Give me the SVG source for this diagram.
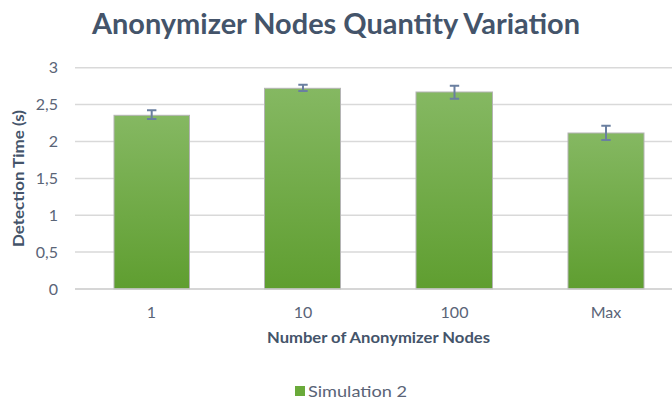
<svg xmlns="http://www.w3.org/2000/svg" width="672" height="403" viewBox="0 0 672 403">
  <defs>
    <linearGradient id="barFill" x1="0" y1="0" x2="0" y2="1">
      <stop offset="0" stop-color="#85b862"/>
      <stop offset="1" stop-color="#5f9e30"/>
    </linearGradient>
    <style>
      .grid { stroke: #d9d9d9; stroke-width: 1.5; }
      .axis { stroke: #c8c8c8; stroke-width: 1.5; }
      .bar { fill: url(#barFill); stroke: #b4b4b4; stroke-width: 1; }
      .err { stroke: #6a7fa0; stroke-width: 2; fill: none; }
      .title { font-family: Lato, "Open Sans", "Liberation Sans", sans-serif; font-weight: bold; fill: #44546a; }
      .tick { font-family: Lato, "Open Sans", "Liberation Sans", sans-serif; font-size: 16px; fill: #5a6477; }
      .legend { font-family: Lato, "Open Sans", "Liberation Sans", sans-serif; font-size: 16px; fill: #5a6477; }
    </style>
  </defs>
  <rect width="672" height="403" fill="#ffffff"/>

  <!-- chart title -->
  <text class="title" x="336" y="34" font-size="29" text-anchor="middle" textLength="488" lengthAdjust="spacingAndGlyphs">Anonymizer Nodes Quantity Variation</text>

  <!-- horizontal gridlines, one per 0.5 s -->
  <g id="gridlines">
    <line class="grid" x1="75" y1="67.7" x2="682" y2="67.7"/>
    <line class="grid" x1="75" y1="104.6" x2="682" y2="104.6"/>
    <line class="grid" x1="75" y1="141.5" x2="682" y2="141.5"/>
    <line class="grid" x1="75" y1="178.4" x2="682" y2="178.4"/>
    <line class="grid" x1="75" y1="215.2" x2="682" y2="215.2"/>
    <line class="grid" x1="75" y1="252.1" x2="682" y2="252.1"/>
  </g>

  <!-- y-axis tick labels -->
  <g id="y-ticks" class="tick" text-anchor="end">
    <text x="58" y="73">3</text>
    <text x="58" y="110">2,5</text>
    <text x="58" y="147">2</text>
    <text x="58" y="184">1,5</text>
    <text x="58" y="220.5">1</text>
    <text x="58" y="257.5">0,5</text>
    <text x="58" y="294.5">0</text>
  </g>

  <!-- bars -->
  <g id="bar-1"><rect class="bar" x="114" y="115.3" width="75.5" height="173.7"/></g>
  <g id="bar-10"><rect class="bar" x="264.5" y="88.3" width="76" height="200.7"/></g>
  <g id="bar-100"><rect class="bar" x="416" y="92" width="76.5" height="197"/></g>
  <g id="bar-max"><rect class="bar" x="568" y="133" width="76" height="156"/></g>

  <!-- baseline -->
  <line class="axis" x1="75" y1="289" x2="682" y2="289"/>

  <!-- error bars -->
  <g id="error-bars" class="err">
    <path d="M151.7 110.3V119M147 110.3H156.4M147 119H156.4"/>
    <path d="M303 84.7V91M298.3 84.7H307.7M298.3 91H307.7"/>
    <path d="M454.5 85.7V98.7M449.8 85.7H459.2M449.8 98.7H459.2"/>
    <path d="M606 125.7V140M601.3 125.7H610.7M601.3 140H610.7"/>
  </g>

  <!-- x-axis category labels -->
  <g id="x-ticks" class="tick" text-anchor="middle">
    <text x="151.5" y="318">1</text>
    <text x="303" y="318">10</text>
    <text x="454.5" y="318">100</text>
    <text x="606" y="318">Max</text>
  </g>

  <!-- axis titles -->
  <text class="title" x="378.5" y="342.5" font-size="15" text-anchor="middle" textLength="223" lengthAdjust="spacingAndGlyphs">Number of Anonymizer Nodes</text>
  <text class="title" transform="translate(24,178.5) rotate(-90)" font-size="15" text-anchor="middle" textLength="137" lengthAdjust="spacingAndGlyphs">Detection Time (s)</text>

  <!-- legend -->
  <g id="legend">
    <rect x="295" y="386" width="10" height="10" fill="#6aaa3a"/>
    <text class="legend" x="308" y="397" textLength="99" lengthAdjust="spacingAndGlyphs">Simulation 2</text>
  </g>
</svg>
